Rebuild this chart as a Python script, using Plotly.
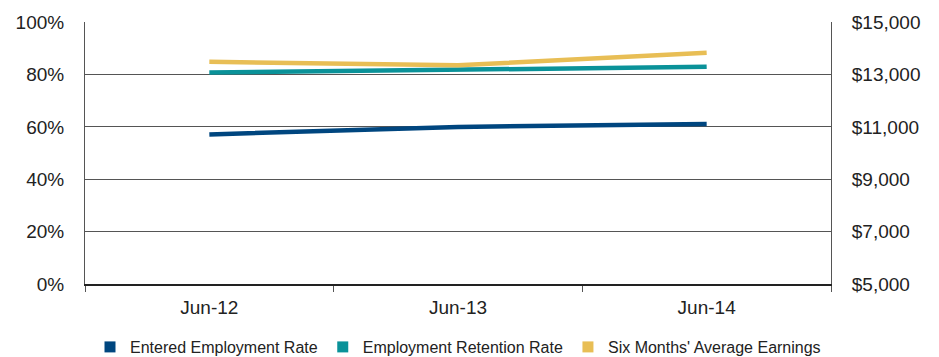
import plotly.graph_objects as go

categories = ["Jun-12", "Jun-13", "Jun-14"]
entered_rate = [57.1, 60.0, 61.1]
retention_rate = [80.7, 81.9, 82.9]
avg_earnings = [13480, 13350, 13830]

names = ["Entered Employment Rate", "Employment Retention Rate", "Six Months' Average Earnings"]
colors = ["#00467F", "#0A9299", "#E8BE55"]

font_family = "Liberation Sans, Arial, sans-serif"
text_color = "#222222"

fig = go.Figure()
fig.add_trace(go.Scatter(x=categories, y=entered_rate, mode="lines", name=names[0],
                         line=dict(color=colors[0], width=4.5), showlegend=False))
fig.add_trace(go.Scatter(x=categories, y=retention_rate, mode="lines", name=names[1],
                         line=dict(color=colors[1], width=4.5), showlegend=False))
fig.add_trace(go.Scatter(x=categories, y=avg_earnings, mode="lines", name=names[2],
                         line=dict(color=colors[2], width=4.5), showlegend=False, yaxis="y2"))
# legend entries with square swatches
for n, c in zip(names, colors):
    fig.add_trace(go.Scatter(x=[None], y=[None], mode="markers", name=n,
                             marker=dict(symbol="square", size=11, color=c)))

fig.update_layout(
    width=939, height=357,
    margin=dict(l=85, r=108, t=19, b=70),
    paper_bgcolor="white", plot_bgcolor="white",
    font=dict(family=font_family, size=19, color=text_color),
    showlegend=True,
    legend=dict(orientation="h", x=0.5, xanchor="center", xref="paper",
                y=0.028, yref="container", yanchor="middle",
                font=dict(size=16, color=text_color), itemwidth=30,
                tracegroupgap=0),
    xaxis=dict(type="category", range=[-0.5, 2.5], tickson="boundaries",
               ticks="outside", ticklen=6, tickcolor="#555555", tickwidth=1,
               showline=True, linecolor="#222222", linewidth=2,
               showgrid=False, tickfont=dict(size=19), ticklabelstandoff=5),
    yaxis=dict(range=[0, 100], dtick=20, ticksuffix="%", showgrid=True,
               gridcolor="#555555", gridwidth=1, showline=True, linecolor="#555555",
               linewidth=1, zeroline=False, ticks="", ticklabelstandoff=16,
               tickfont=dict(size=19)),
    yaxis2=dict(range=[5000, 15000], tick0=5000, dtick=2000, tickprefix="$", tickformat=",",
                overlaying="y", side="right", showgrid=False, showline=True,
                linecolor="#555555", linewidth=1, zeroline=False, ticks="",
                ticklabelstandoff=16, tickfont=dict(size=19)),
)

fig.write_html("out.html")
